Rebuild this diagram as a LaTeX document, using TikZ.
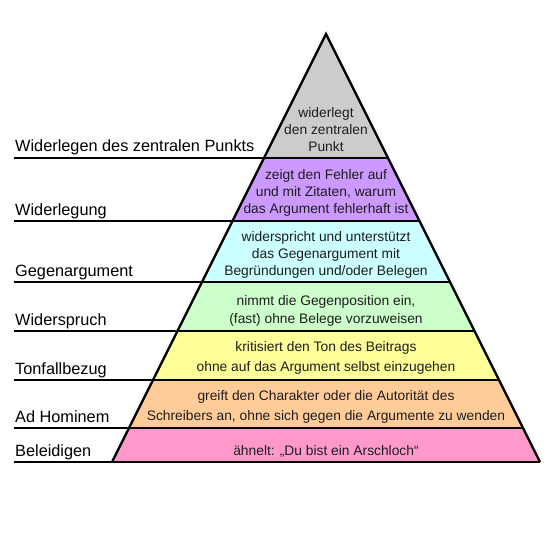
\documentclass[tikz,border=0pt]{standalone}
\usepackage{fontspec}
\setmainfont{Liberation Sans}
\usepackage{tikz}
\usetikzlibrary{calc}
\definecolor{TopGray}{RGB}{204,204,204}
\definecolor{RefPurple}{RGB}{204,153,255}
\definecolor{ArgCyan}{RGB}{204,255,255}
\definecolor{ContraGreen}{RGB}{204,255,204}
\definecolor{ToneYellow}{RGB}{255,255,153}
\definecolor{HomOrange}{RGB}{255,204,153}
\definecolor{InsultPink}{RGB}{255,153,204}
\definecolor{TextDark}{RGB}{30,30,30}

\begin{document}
\begin{tikzpicture}[x=1pt,y=-1pt,line width=2.4pt,
  lbl/.style={anchor=base west,inner sep=0pt,font=\fontsize{16.3}{19}\selectfont},
  txt/.style={align=center,inner sep=0pt,text=TextDark,font=\fontsize{13.8}{#1}\selectfont},
  txt/.default=17]
\useasboundingbox (0,0) rectangle (553,553);
\coordinate (apex) at (326,34);
\foreach \n/\y in {1/158,2/221,3/282,4/331,5/380,6/428,7/462}{
  \coordinate (l\n) at ({326-(\y-34)/2},\y);
  \coordinate (r\n) at ({326+(\y-34)/2},\y);
  \coordinate (s\n) at (14,\y);
}
% Stufen
\fill[TopGray] (apex)--(l1)--(r1)--cycle;
\fill[RefPurple] (l1)--(l2)--(r2)--(r1)--cycle;
\fill[ArgCyan] (l2)--(l3)--(r3)--(r2)--cycle;
\fill[ContraGreen] (l3)--(l4)--(r4)--(r3)--cycle;
\fill[ToneYellow] (l4)--(l5)--(r5)--(r4)--cycle;
\fill[HomOrange] (l5)--(l6)--(r6)--(r5)--cycle;
\fill[InsultPink] (l6)--(l7)--(r7)--(r6)--cycle;
\draw[line join=miter] (l7)--(apex)--(r7);
\foreach \n in {1,...,7}{\draw (s\n)--(r\n);}
% Beschriftungen links
\node[lbl] (lab1) at ($(s1)+(0,-6)$) {Widerlegen des zentralen Punkts};
\node[lbl] (lab2) at ($(s2)+(0,-6)$) {Widerlegung};
\node[lbl] (lab3) at ($(s3)+(0,-6)$) {Gegenargument};
\node[lbl] (lab4) at ($(s4)+(0,-6)$) {Widerspruch};
\node[lbl] (lab5) at ($(s5)+(0,-6)$) {Tonfallbezug};
\node[lbl] (lab6) at ($(s6)+(0,-6)$) {Ad Hominem};
\node[lbl] (lab7) at ($(s7)+(0,-6)$) {Beleidigen};
% Texte in der Pyramide
\node[txt] (t1) at (326,130) {widerlegt\\den zentralen\\Punkt};
\node[txt] (t2) at (326,193) {zeigt den Fehler auf\\und mit Zitaten, warum\\das Argument fehlerhaft ist};
\node[txt] (t3) at (326,255) {widerspricht und unterstützt\\das Gegenargument mit\\Begründungen und/oder Belegen};
\node[txt=18] (t4) at (326,311) {nimmt die Gegenposition ein,\\(fast) ohne Belege vorzuweisen};
\node[txt=20] (t5) at (326,358) {kritisiert den Ton des Beitrags\\ohne auf das Argument selbst einzugehen};
\node[txt=20] (t6) at (326,407) {greift den Charakter oder die Autorität des\\Schreibers an, ohne sich gegen die Argumente zu wenden};
\node[txt] (t7) at (326,451) {ähnelt: „Du bist ein Arschloch“};
\end{tikzpicture}
\end{document}
